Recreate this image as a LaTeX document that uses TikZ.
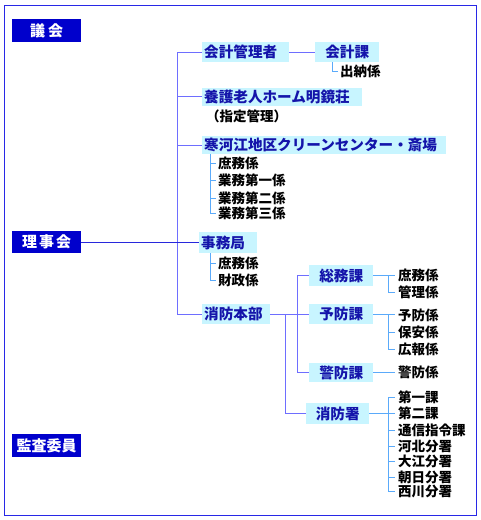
\documentclass[tikz,border=0pt]{standalone}
\usepackage{fontspec}
\setmainfont{Noto Sans CJK JP}
\definecolor{dkblue}{RGB}{0,0,204}
\definecolor{ltcyan}{RGB}{200,245,255}
\definecolor{txtblue}{RGB}{20,20,170}
\definecolor{trunkc}{RGB}{110,110,255}
\definecolor{rijic}{RGB}{40,40,220}
\definecolor{subc}{RGB}{90,170,250}
\definecolor{framec}{RGB}{40,40,230}
\tikzset{
  dbox/.style={fill=dkblue, text=white, font=\bfseries\fontsize{15}{15}\selectfont,
    minimum width=69pt, minimum height=23pt, inner sep=0pt, anchor=west},
  lbox/.style={fill=ltcyan, text=txtblue, font=\bfseries\fontsize{14.6}{14.6}\selectfont,
    minimum height=20pt, inner ysep=0pt, inner xsep=2pt, anchor=west},
  lleft/.style={lbox, text width=#1, align=left},
  lcent/.style={lbox, minimum width=#1, inner xsep=0pt},
  item/.style={font=\bfseries\fontsize{13.5}{13.5}\selectfont, inner sep=0pt, anchor=west},
  trunk/.style={draw=trunkc, line width=1pt},
  sub/.style={draw=subc, line width=1pt},
}
\begin{document}
\begin{tikzpicture}[x=1pt,y=-1pt]
\useasboundingbox (0,0) rectangle (480,520);
\draw[framec, line width=1pt] (4,5) rectangle (476,515);

% dark boxes
\node[dbox] (gikai) at (12,30.5) {議\hspace{3pt}会};
\node[dbox, minimum height=22pt] (riji) at (12,242) {理\hspace{2pt}事\hspace{2pt}会};
\node[dbox] (kansa) at (12,445.5) {監査委員};

% main branches
\node[lleft=83pt] (kanri) at (202,52) {会計管理者};
\node[lcent=64pt] (kaikei) at (315,52) {会計課};
\node[item] (suito) at (340,71) {出納係};
\node[lleft=156pt, minimum height=18pt] (yogo) at (202,96.5) {養護老人ホーム明鏡荘};
\node[item] (shitei) at (206,116) {（指定管理）};
\node[lleft=240pt, minimum height=18pt] (clean) at (202,145) {寒河江地区クリーンセンター・斎場};
\node[item] (c1) at (218,163) {庶務係};
\node[item] (c2) at (218,180) {業務第一係};
\node[item] (c3) at (218,198) {業務第二係};
\node[item] (c4) at (218,213) {業務第三係};
\node[lleft=54pt, minimum height=21pt] (jimu) at (199,242.5) {事務局};
\node[item] (j1) at (218,263) {庶務係};
\node[item] (j2) at (218,280) {財政係};
\node[lleft=64pt] (shobo) at (202,314) {消防本部};

% fire department
\node[lcent=64pt, minimum height=21pt] (somu) at (309,275.5) {総務課};
\node[lcent=64pt] (yobo) at (309,314) {予防課};
\node[lcent=64pt, minimum height=19pt] (keibo) at (309,372.5) {警防課};
\node[lcent=63pt, minimum height=21pt] (sho) at (306,413.5) {消防署};

\node[item] (s1) at (398,275) {庶務係};
\node[item] (s2) at (398,292) {管理係};
\node[item] (y1) at (398,315) {予防係};
\node[item] (y2) at (398,332) {保安係};
\node[item] (y3) at (398,349) {広報係};
\node[item] (k1) at (398,372) {警防係};
\node[item] (f1) at (398,397) {第一課};
\node[item] (f2) at (398,413) {第二課};
\node[item] (f3) at (398,430) {通信指令課};
\node[item] (f4) at (398,446) {河北分署};
\node[item] (f5) at (398,461) {大江分署};
\node[item] (f6) at (398,477) {朝日分署};
\node[item] (f7) at (398,491) {西川分署};

% trunk
\coordinate (ttop) at (177,52);
\coordinate (tbot) at (177,314);
\draw[trunk] (ttop) -- (tbot);
\foreach \n in {kanri,yogo,clean,shobo}{
  \draw[trunk] (\n.west -| ttop) -- (\n.west);
}
\draw[trunk] (kanri.east) -- (kaikei.west);
\draw[draw=rijic, line width=1pt] (riji.east) -- (riji.east -| jimu.west);

% sub-lines of main branches
\coordinate (kx) at (332,0);
\draw[sub] (kaikei.south -| kx) |- ([xshift=-2pt]suito.west);
\coordinate (cx) at (210,0);
\draw[sub] (clean.south -| cx) -- (c4.west -| cx);
\foreach \n in {c1,c2,c3,c4}{ \draw[sub] (\n.west -| cx) -- ([xshift=-2pt]\n.west); }
\draw[sub] (jimu.south -| cx) -- (j2.west -| cx);
\foreach \n in {j1,j2}{ \draw[sub] (\n.west -| cx) -- ([xshift=-2pt]\n.west); }

% fire department lines
\coordinate (fa) at (297,0);
\coordinate (fb) at (285,0);
\draw[trunk] (shobo.east) -- (yobo.west);
\draw[trunk] (somu.west -| fa) -- (keibo.west -| fa);
\draw[trunk] (somu.west -| fa) -- (somu.west);
\draw[trunk] (keibo.west -| fa) -- (keibo.west);
\draw[trunk] (shobo.east -| fb) |- (sho.west);

\coordinate (rx) at (388,0);
\draw[sub] (somu.east) -- ([xshift=-3pt]s1.west |- somu.east);
\draw[sub] (somu.east -| rx) |- ([xshift=-3pt]s2.west);
\draw[sub] (yobo.east) -- ([xshift=-3pt]y1.west |- yobo.east);
\draw[sub] (yobo.east -| rx) |- ([xshift=-3pt]y3.west);
\draw[sub] (y2.west -| rx) -- ([xshift=-3pt]y2.west);
\draw[sub] (keibo.east) -- ([xshift=-3pt]k1.west |- keibo.east);
\draw[sub] (sho.east) -- (sho.east -| rx);
\draw[sub] (f1.west -| rx) -- (f7.west -| rx);
\foreach \n in {f1,f2,f3,f4,f5,f6,f7}{ \draw[sub] (\n.west -| rx) -- ([xshift=-3pt]\n.west); }
\end{tikzpicture}
\end{document}
